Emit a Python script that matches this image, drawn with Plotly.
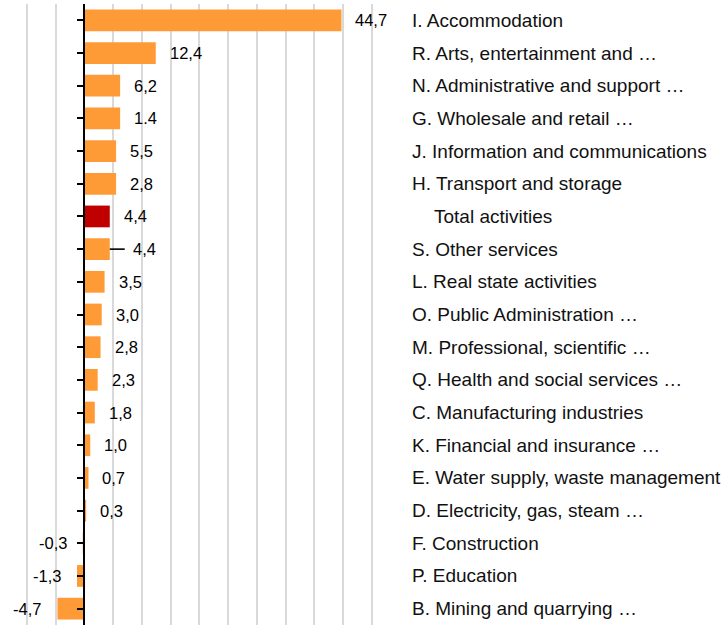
import plotly.graph_objects as go

categories = [
    "I. Accommodation",
    "R. Arts, entertainment and …",
    "N. Administrative and support …",
    "G. Wholesale and retail …",
    "J. Information and communications",
    "H. Transport and storage",
    "Total activities",
    "S. Other services",
    "L. Real state activities",
    "O. Public Administration …",
    "M. Professional, scientific …",
    "Q. Health and social services …",
    "C. Manufacturing industries",
    "K. Financial and insurance …",
    "E. Water supply, waste management …",
    "D. Electricity, gas, steam …",
    "F. Construction",
    "P. Education",
    "B. Mining and quarrying …",
]
bar_values = [44.7, 12.4, 6.2, 6.2, 5.5, 5.5, 4.4, 4.4, 3.5, 3.0, 2.8, 2.3, 1.8, 1.0, 0.7, 0.3, -0.3, -1.3, -4.7]
value_labels = ["44,7", "12,4", "6,2", "1.4", "5,5", "2,8", "4,4", "4,4", "3,5", "3,0", "2,8", "2,3",
                "1,8", "1,0", "0,7", "0,3", "-0,3", "-1,3", "-4,7"]
leader_lengths = [0, 0, 0, 0, 0, 0, 0, 2.6, 0, 0, 0, 0, 0, 0, 0, 0, 0, 0, 0]
highlight = "Total activities"

ORANGE = "#FF9B37"
RED = "#C00000"
x_min, x_max = -14.69, 55.05

colors = [RED if c == highlight else ORANGE for c in categories]
ypos = list(range(len(categories)))

fig = go.Figure()
fig.add_trace(go.Bar(
    x=bar_values, y=ypos, orientation="h",
    marker=dict(color=colors, line=dict(width=0)),
    error_x=dict(type="data", symmetric=False, array=leader_lengths,
                 arrayminus=[0] * len(categories), width=0, thickness=1.6, color="black"),
    showlegend=False, hoverinfo="skip",
))

annotations = []
for i, (v, lab, ll) in enumerate(zip(bar_values, value_labels, leader_lengths)):
    if v >= 0:
        annotations.append(dict(x=v, y=i, xref="x", yref="y", text=lab, showarrow=False,
                                xanchor="left", yanchor="middle",
                                xshift=12 + (9 if ll > 0 else 0),
                                font=dict(family="Liberation Sans, Arial", size=16.5, color="#000")))
    else:
        annotations.append(dict(x=v, y=i, xref="x", yref="y", text=lab, showarrow=False,
                                xanchor="right", yanchor="middle", xshift=-14,
                                font=dict(family="Liberation Sans, Arial", size=16.5, color="#000")))

for i, c in enumerate(categories):
    annotations.append(dict(x=1, y=i, xref="paper", yref="y", text=c, showarrow=False,
                            xanchor="left", yanchor="middle",
                            xshift=9 + (22 if c == highlight else 0),
                            font=dict(family="Liberation Sans, Arial", size=19, color="#111")))

zero_pos = (0 - x_min) / (x_max - x_min)

fig.update_layout(
    width=722, height=625,
    margin=dict(l=0, r=321, t=4, b=0),
    plot_bgcolor="white", paper_bgcolor="white",
    bargap=0.335,
    xaxis=dict(range=[x_min, x_max], dtick=5, tick0=0, showgrid=True,
               gridcolor="#d9d9d9", gridwidth=1.5, zeroline=False,
               showticklabels=False, ticks="", showline=False, fixedrange=True),
    yaxis=dict(range=[len(categories) - 0.5, -0.5], tickmode="array", tickvals=ypos,
               showticklabels=False, showgrid=False, zeroline=False,
               showline=True, linecolor="black", linewidth=2,
               ticks="outside", tickson="boundaries", ticklen=6, tickwidth=1.6, tickcolor="black",
               anchor="free", position=zero_pos, fixedrange=True),
    annotations=annotations,
)

fig.write_html("out.html", config={"displayModeBar": False},
               post_script="document.body.style.margin='0px';document.body.style.overflow='hidden';")
